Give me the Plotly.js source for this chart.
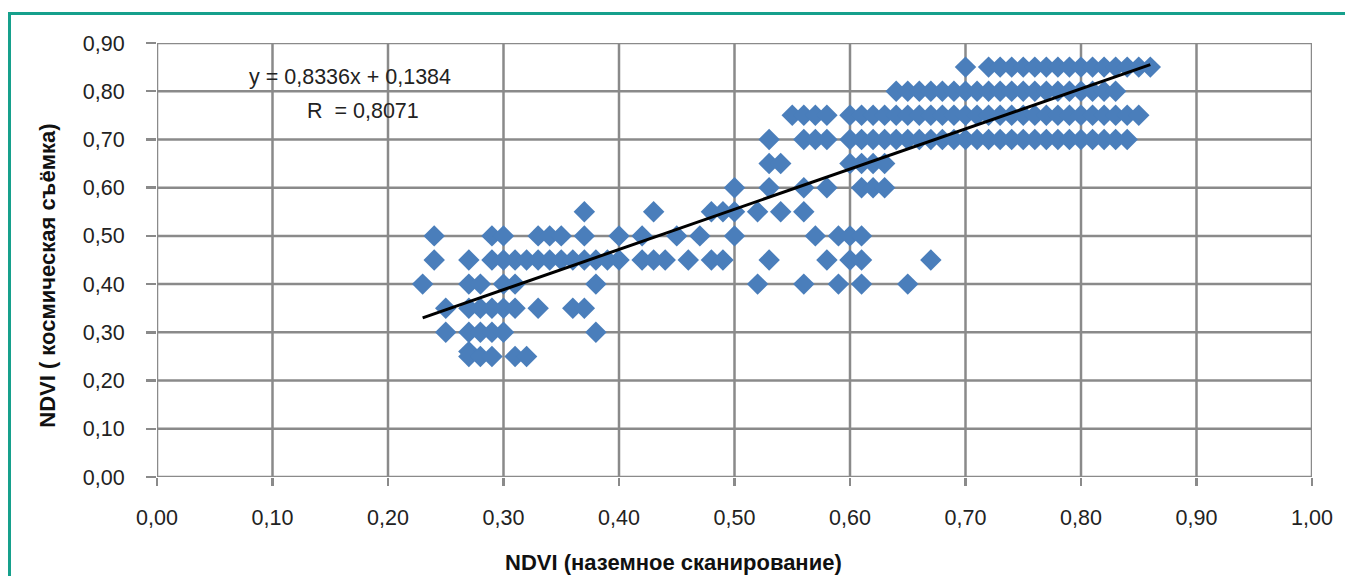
<!DOCTYPE html>
<html>
<head>
<meta charset="utf-8">
<script src="https://cdn.plot.ly/plotly-3.0.1.min.js"></script>
<style>
  html, body { margin: 0; padding: 0; background: #fff; }
  #wrap { position: relative; width: 1345px; height: 576px; overflow: hidden; }
  #frame { position: absolute; left: 8px; top: 12px; width: 1400px; height: 700px;
           border-left: 3px solid #16a08c; border-top: 3px solid #16a08c; pointer-events: none; }
  #chart { position: absolute; left: 0; top: 0; width: 1345px; height: 576px; }
</style>
</head>
<body>
<div id="wrap">
  <div id="chart"></div>
  <div id="frame"></div>
</div>
<script>
// NDVI from satellite imagery (y) against ground scanning (x), grouped by satellite level
const level085 = [0.70, 0.72, 0.73, 0.74, 0.75, 0.76, 0.77, 0.78, 0.79, 0.80, 0.81, 0.82, 0.83, 0.84, 0.85, 0.86];
const level080 = [0.64, 0.65, 0.66, 0.67, 0.68, 0.69, 0.70, 0.71, 0.72, 0.73, 0.74, 0.75, 0.76, 0.77, 0.78, 0.79, 0.80, 0.81, 0.82, 0.83];
const level075 = [0.55, 0.56, 0.57, 0.58, 0.60, 0.61, 0.62, 0.63, 0.64, 0.65, 0.66, 0.67, 0.68, 0.69, 0.70, 0.71, 0.72, 0.73, 0.74, 0.75, 0.76, 0.77, 0.78, 0.79, 0.80, 0.81, 0.82, 0.83, 0.84, 0.85];
const level070 = [0.53, 0.56, 0.57, 0.58, 0.60, 0.61, 0.62, 0.63, 0.64, 0.65, 0.66, 0.67, 0.68, 0.69, 0.70, 0.71, 0.72, 0.73, 0.74, 0.75, 0.76, 0.77, 0.78, 0.79, 0.80, 0.81, 0.82, 0.83, 0.84];
const level065 = [0.53, 0.54, 0.60, 0.61, 0.62, 0.63];
const level060 = [0.50, 0.53, 0.56, 0.58, 0.61, 0.62, 0.63];
const level055 = [0.37, 0.43, 0.48, 0.49, 0.50, 0.52, 0.54, 0.56];
const level050 = [0.24, 0.29, 0.30, 0.33, 0.34, 0.35, 0.37, 0.40, 0.42, 0.45, 0.47, 0.50, 0.57, 0.59, 0.60, 0.61];
const level045 = [0.24, 0.27, 0.29, 0.30, 0.31, 0.32, 0.33, 0.34, 0.35, 0.36, 0.37, 0.38, 0.39, 0.40, 0.42, 0.43, 0.44, 0.46, 0.48, 0.49, 0.53, 0.58, 0.60, 0.61, 0.67];
const level040 = [0.23, 0.27, 0.28, 0.30, 0.31, 0.38, 0.52, 0.56, 0.59, 0.61, 0.65];
const level035 = [0.25, 0.27, 0.28, 0.29, 0.30, 0.31, 0.33, 0.36, 0.37];
const level030 = [0.25, 0.27, 0.28, 0.29, 0.30, 0.38];
const level026 = [0.27];
const level025 = [0.27, 0.28, 0.29, 0.31, 0.32];

const satelliteLevels = [0.85, 0.80, 0.75, 0.70, 0.65, 0.60, 0.55, 0.50, 0.45, 0.40, 0.35, 0.30, 0.26, 0.25];
const groundByLevel = [level085, level080, level075, level070, level065, level060, level055,
                       level050, level045, level040, level035, level030, level026, level025];

// Linear trend: y = slope * x + intercept
const slope = 0.8336;
const intercept = 0.1384;
const rValue = 0.8071;

const xTicks = [0, 0.1, 0.2, 0.3, 0.4, 0.5, 0.6, 0.7, 0.8, 0.9, 1.0];
const yTicks = [0, 0.1, 0.2, 0.3, 0.4, 0.5, 0.6, 0.7, 0.8, 0.9];

const xs = [], ys = [];
groundByLevel.forEach((row, i) => {
  row.forEach(x => { xs.push(x); ys.push(satelliteLevels[i]); });
});
const xMin = Math.min(...xs), xMax = Math.max(...xs);

const fmt = v => v.toFixed(4).replace('.', ',');

const points = {
  type: 'scatter', mode: 'markers', x: xs, y: ys,
  marker: { symbol: 'diamond', size: 16.5, color: '#4a7ebb', line: { width: 0 } },
  hoverinfo: 'x+y'
};
const trend = {
  type: 'scatter', mode: 'lines',
  x: [xMin, xMax], y: [slope * xMin + intercept, slope * xMax + intercept],
  line: { color: '#000', width: 3 }, hoverinfo: 'skip'
};

// Grid lines drawn as shapes beneath the markers
const gridColor = '#8a8a8a';
const gridShapes = [
  ...xTicks.map(t => ({ type: 'line', layer: 'below', xref: 'x', yref: 'paper',
                         x0: t, x1: t, y0: 0, y1: 1, line: { color: gridColor, width: 2.5 } })),
  ...yTicks.map(t => ({ type: 'line', layer: 'below', xref: 'paper', yref: 'y',
                         x0: 0, x1: 1, y0: t, y1: t, line: { color: gridColor, width: 2.5 } }))
];

const tickFont = { family: 'Liberation Sans, Arial, sans-serif', size: 21.5, color: '#222' };
const titleFont = { family: 'Liberation Sans, Arial, sans-serif', size: 22, color: '#111', weight: 'bold' };

const layout = {
  width: 1345, height: 576,
  margin: { l: 157, r: 33, t: 43, b: 99, pad: 0 },
  paper_bgcolor: 'rgba(0,0,0,0)', plot_bgcolor: '#fff',
  showlegend: false,
  separators: ', ',
  xaxis: {
    range: [0, 1], tickvals: xTicks, tickformat: '.2f',
    showgrid: false, zeroline: false, showline: false,
    ticks: 'outside', ticklen: 8, tickwidth: 2.5, tickcolor: gridColor,
    ticklabelstandoff: 13, tickfont: tickFont
  },
  yaxis: {
    range: [0, 0.9], tickvals: yTicks, tickformat: '.2f',
    showgrid: false, zeroline: false, showline: false,
    ticks: 'outside', ticklen: 10, tickwidth: 2.5, tickcolor: gridColor,
    ticklabelstandoff: 17, tickfont: tickFont
  },
  shapes: gridShapes,
  annotations: [
    { text: 'y = ' + fmt(slope) + 'x + ' + fmt(intercept), xref: 'x', yref: 'y',
      x: 0.167, y: 0.829, showarrow: false, font: tickFont, xanchor: 'center', yanchor: 'middle' },
    { text: 'R  = ' + fmt(rValue), xref: 'x', yref: 'y',
      x: 0.178, y: 0.7585, showarrow: false, font: tickFont, xanchor: 'center', yanchor: 'middle' },
    { text: 'NDVI (наземное сканирование)', xref: 'paper', yref: 'paper',
      x: 0.447, y: -0.198, showarrow: false, font: titleFont, xanchor: 'center', yanchor: 'middle' },
    { text: 'NDVI ( космическая съёмка)', xref: 'paper', yref: 'paper',
      x: -0.0955, y: 0.463, textangle: -90, showarrow: false, font: titleFont,
      xanchor: 'center', yanchor: 'middle' }
  ]
};

Plotly.newPlot('chart', [points, trend], layout, { staticPlot: true, displayModeBar: false });
</script>
</body>
</html>
